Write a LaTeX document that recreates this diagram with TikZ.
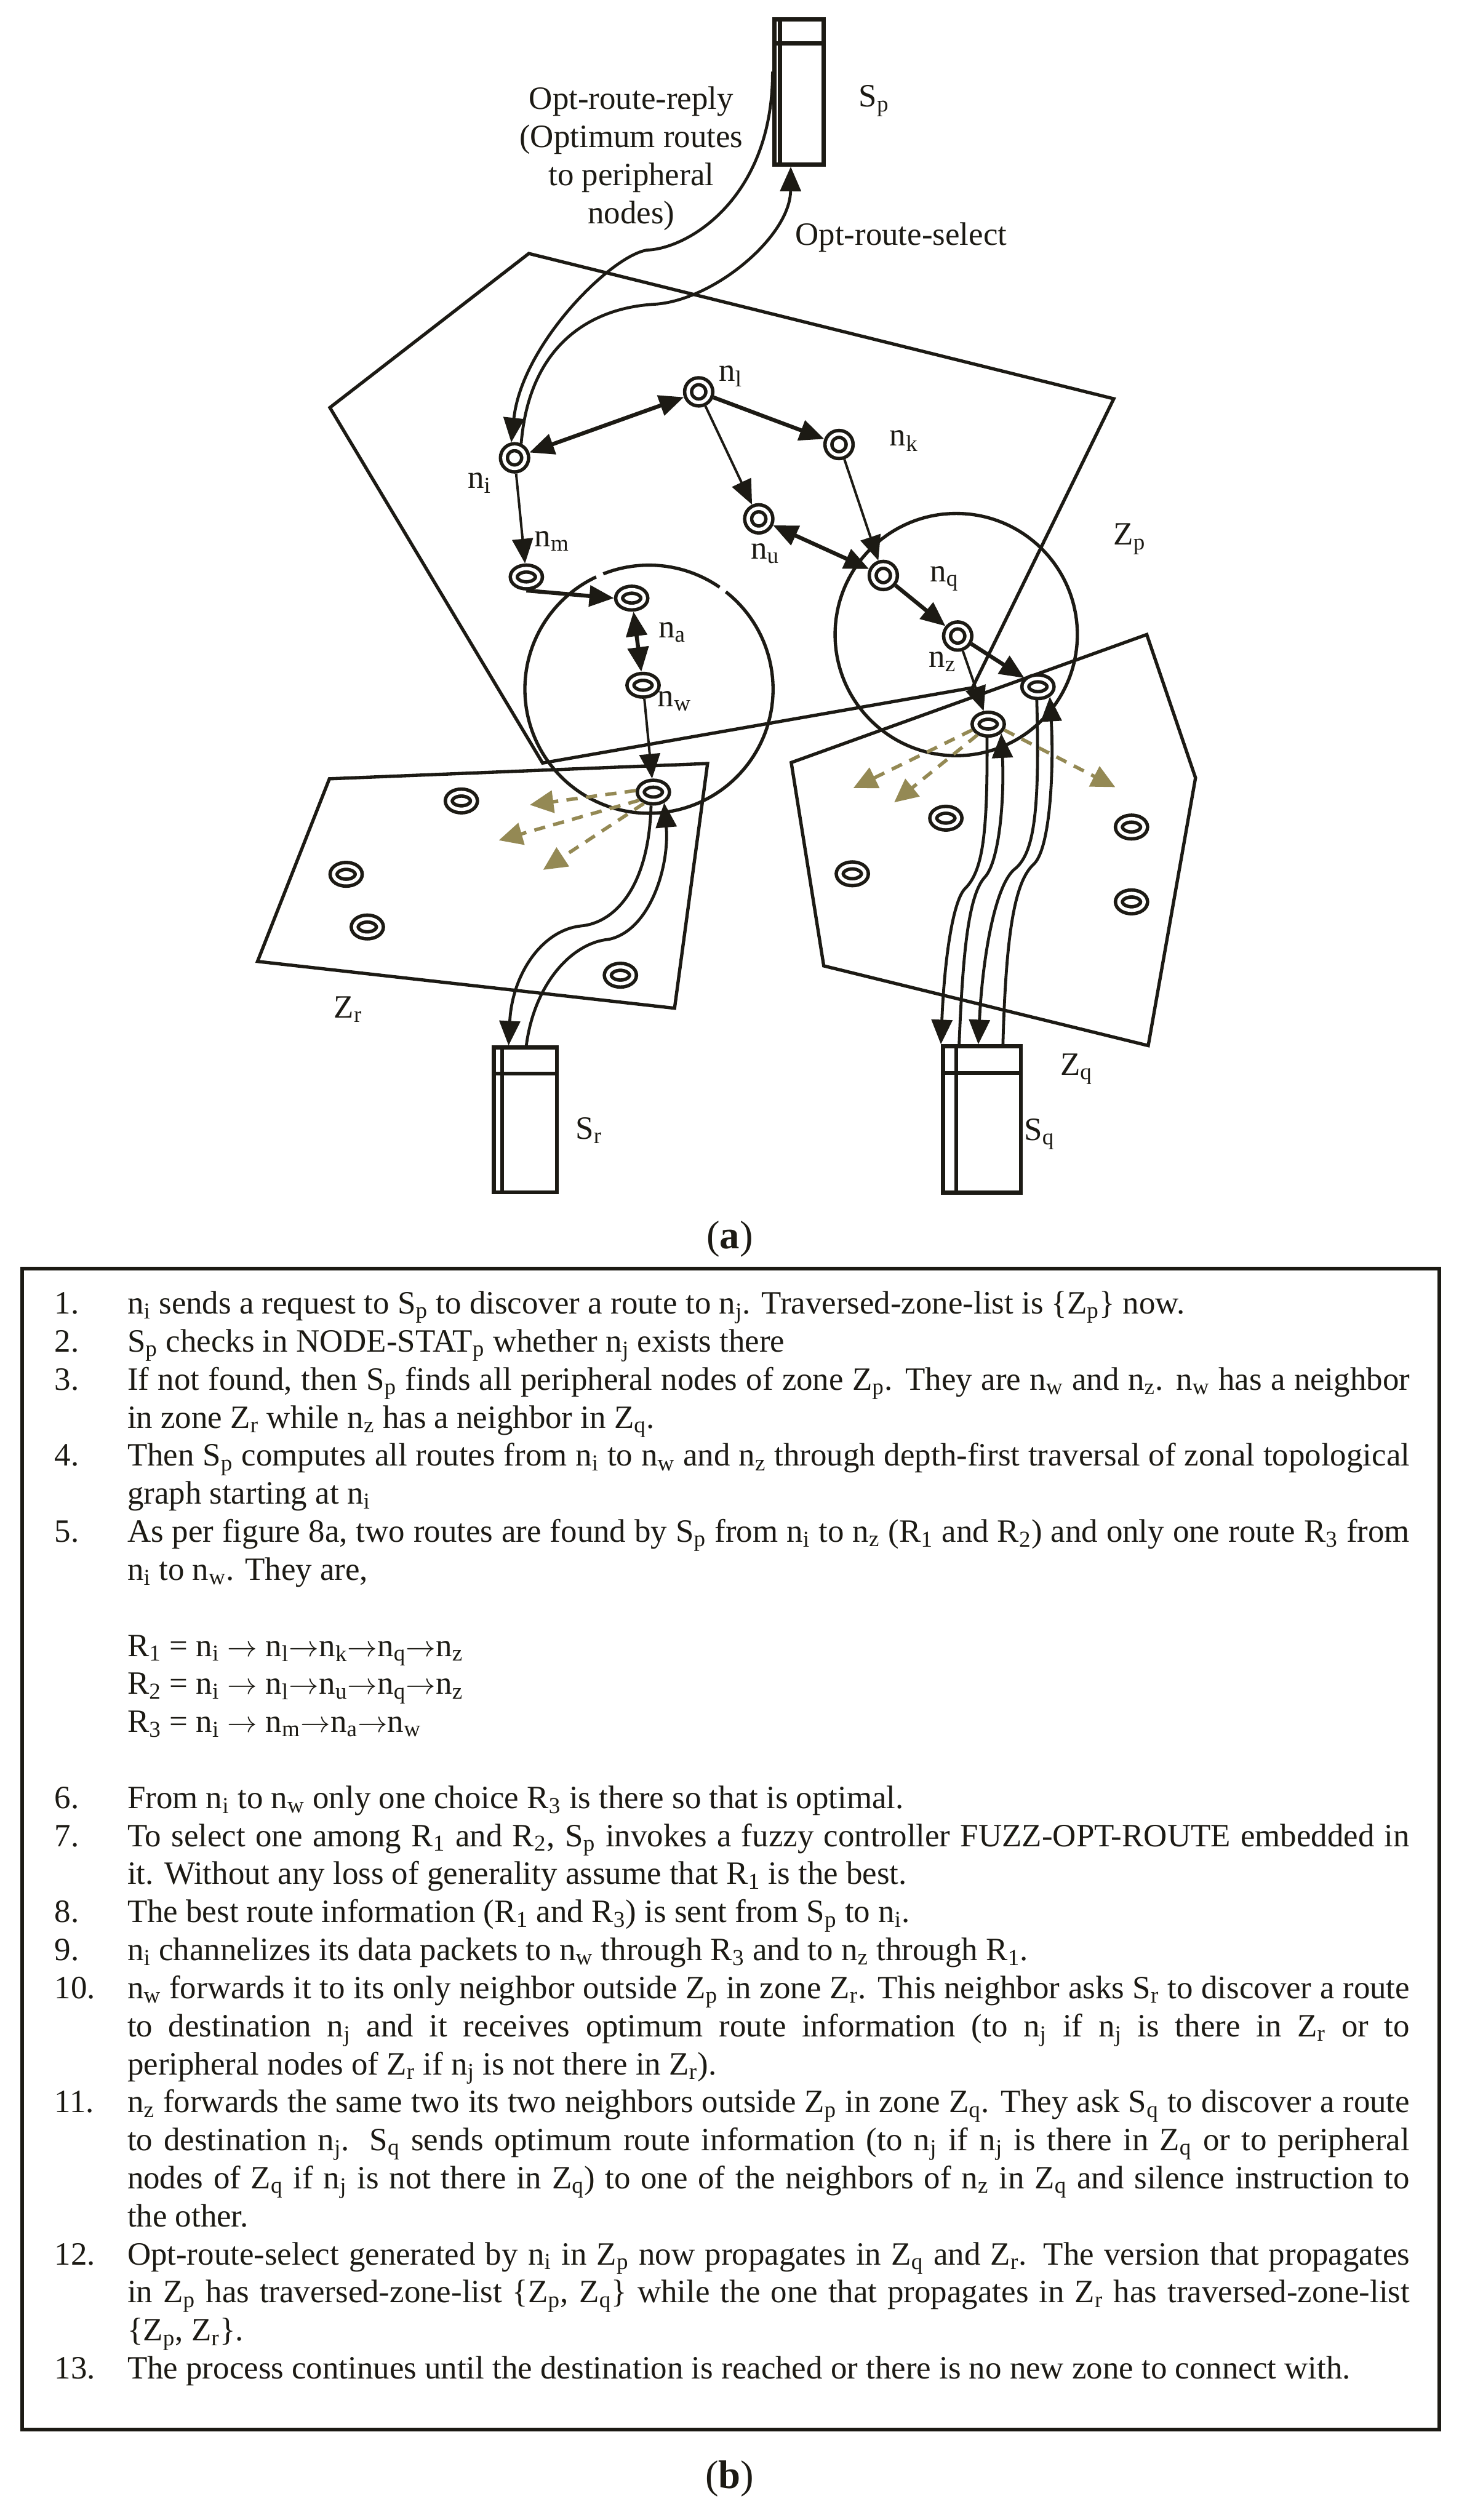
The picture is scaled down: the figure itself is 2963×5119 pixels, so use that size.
\documentclass[tikz,border=0pt]{standalone}
\usepackage{fontspec}
\setmainfont{Liberation Serif}
\usetikzlibrary{positioning, arrows.meta, calc, shapes.geometric}

\definecolor{ink}{RGB}{28,26,20}
\definecolor{olive}{RGB}{148,137,84}

\newcommand{\ns}[1]{n\textsubscript{#1}}
\newcommand{\zs}[1]{Z\textsubscript{#1}}
\newcommand{\ssv}[1]{S\textsubscript{#1}}
\newcommand{\rs}[1]{R\textsubscript{#1}}
\newcommand{\itm}[2]{\makebox[1.48cm][l]{#1}#2}
\newcommand{\itmj}[2]{\makebox[1.48cm][l]{#1}\makebox[26.03cm][s]{#2}}

\begin{document}
\begin{tikzpicture}[
  x=0.01cm, y=-0.01cm,
  font=\fontsize{18.8}{22}\selectfont,
  >={Triangle[length=0.5cm, width=0.42cm]},
  zone/.style={draw=ink, line width=1.9pt},
  ring/.style={circle, draw=ink, fill=white, line width=2pt, double,
               double distance=0.07cm, minimum size=0.43cm, inner sep=0pt,
               outer sep=0.105cm},
  flatring/.style={ring, ellipse, minimum width=0.51cm, minimum height=0.34cm},
  server/.style={draw=ink, fill=white, line width=2.3pt, inner sep=0pt},
  heavy/.style={->, draw=ink, line width=2.3pt},
  light/.style={heavy, line width=1.4pt},
  swing/.style={heavy, line width=1.7pt},
  scatter/.style={-{Triangle[length=0.48cm, width=0.45cm]}, draw=olive,
                  line width=2pt, dash pattern=on 6.5pt off 4.8pt},
  tag/.style={inner sep=0pt, text=ink},
]
\useasboundingbox (0,0) rectangle (2963,5119);

% zones
\draw[zone] (1074,515) -- (2262,810) -- (1975,1397) -- (1102,1550) -- (670,828) -- cycle;
\draw[zone] (669,1582) -- (1437,1551) -- (1370,2048) -- (523,1953) -- cycle;
\draw[zone] (1607,1549) -- (2329,1289) -- (2428,1580) -- (2332,2124) -- (1673,1962) -- cycle;

% neighbourhood circles
\coordinate (lc) at (1318,1400);
\draw[zone] (lc) ++(308.3:252) arc[start angle=308.3, end angle=604.8, radius=252];
\draw[zone] (lc) ++(248.4:252) arc[start angle=248.4, end angle=304.7, radius=252];
\draw[zone] (1942,1289) circle[radius=246];

% servers
\node[server, minimum width=1.00cm, minimum height=2.95cm] (sp) at (1623,187) {};
\draw[ink, line width=2.3pt] ($(sp.north west)+(15,0)$) -- ($(sp.south west)+(15,0)$);
\draw[ink, line width=2.3pt] ($(sp.north west)+(0,53)$) -- ($(sp.north east)+(0,53)$);
\node[server, minimum width=1.28cm, minimum height=2.94cm] (sr) at (1067,2275) {};
\draw[ink, line width=2.3pt] ($(sr.north west)+(21,0)$) -- ($(sr.south west)+(21,0)$);
\draw[ink, line width=2.3pt] ($(sr.north west)+(0,57)$) -- ($(sr.north east)+(0,57)$);
\node[server, minimum width=1.58cm, minimum height=2.97cm] (sq) at (1994,2274) {};
\draw[ink, line width=2.3pt] ($(sq.north west)+(31,0)$) -- ($(sq.south west)+(31,0)$);
\draw[ink, line width=2.3pt] ($(sq.north west)+(0,58)$) -- ($(sq.north east)+(0,58)$);

% mobile nodes
\node[ring] (ni) at (1045,930) {};
\node[ring] (nl) at (1419,796) {};
\node[ring] (nk) at (1704,903) {};
\node[ring] (nu) at (1541,1054) {};
\node[ring] (nq) at (1794,1169) {};
\node[ring] (nz) at (1945,1292) {};
\node[flatring] (nm) at (1069,1172) {};
\node[flatring] (na) at (1283,1215) {};
\node[flatring] (nw) at (1306,1392) {};
\node[flatring] (r0) at (1327,1609) {};
\node[flatring] (t1) at (2108,1395) {};
\node[flatring] (t2) at (2007,1471) {};
\node[flatring] (zr1) at (937,1627) {};
\node[flatring] (zr2) at (703,1776) {};
\node[flatring] (zr3) at (746,1883) {};
\node[flatring] (zr4) at (1260,1981) {};
\node[flatring] (zq1) at (1921,1662) {};
\node[flatring] (zq2) at (1731,1775) {};
\node[flatring] (zq3) at (2298,1680) {};
\node[flatring] (zq4) at (2298,1832) {};

% routes inside Zp
\draw[heavy, <->] (ni) -- (nl);
\draw[heavy] (nl) -- (nk);
\draw[light] (nl) -- (nu);
\draw[light] (nk.-70) -- (nq);
\draw[heavy, <->] (nu) -- (nq);
\draw[light] (ni) -- (nm);
\draw[heavy] (nm.south) -- (na.west);
\draw[heavy, <->] (na) -- (nw);
\draw[light] (nw) -- (r0);
\draw[heavy] (nq) -- (nz);
\draw[heavy] (nz.-30) -- (t1);
\draw[light] (nz) -- (t2);

% messages with the servers
\draw[swing] ($(sp.north west)+(0,110)$) .. controls (1570,400) and (1400,505) .. (1314,508)
  .. controls (1240,520) and (1060,700) .. (ni.102);
\draw[swing] (ni.65) .. controls (1075,700) and (1200,625) .. (1330,618)
  .. controls (1450,610) and (1605,480) .. ($(sp.south west)+(37,0)$);
\draw[swing] (r0.260) .. controls (1318,1800) and (1250,1875) .. (1179,1881)
  .. controls (1100,1890) and (1040,1980) .. ($(sr.north west)+(34,0)$);
\draw[swing] ($(sr.north west)+(70,0)$) .. controls (1085,2000) and (1160,1915) .. (1237,1908)
  .. controls (1320,1890) and (1360,1760) .. (r0.-45);
\draw[swing] (t2.265) .. controls (2006,1700) and (1995,1770) .. (1960,1805)
  .. controls (1935,1830) and (1918,1950) .. (sq.north west);
\draw[swing] ($(sq.north west)+(37,0)$) .. controls (1955,1950) and (1965,1820) .. (2000,1782)
  .. controls (2030,1750) and (2040,1620) .. (t2.-35);
\draw[swing] (t1.265) .. controls (2112,1650) and (2100,1735) .. (2060,1766)
  .. controls (2020,1800) and (1995,1950) .. ($(sq.north west)+(76,0)$);
\draw[swing] ($(sq.north west)+(126,0)$) .. controls (2043,1900) and (2060,1790) .. (2100,1755)
  .. controls (2135,1720) and (2140,1550) .. (t1.-40);

% flooding into the neighbour zones
\coordinate (d1) at (1076,1635);
\coordinate (d2) at (1013,1707);
\coordinate (d3) at (1103,1767);
\coordinate (e1) at (1733,1601);
\coordinate (e2) at (1816,1630);
\coordinate (e3) at (2265,1599);
\draw[scatter] (r0.175) -- (d1);
\draw[scatter] (r0.210) -- (d2);
\draw[scatter] (r0.230) -- (d3);
\draw[scatter] (t2.200) -- (e1);
\draw[scatter] (t2.225) -- (e2);
\draw[scatter] (t2.-20) -- (e3);

% labels
\node[tag] (lsp) at (1775,205) {\ssv{p}};
\node[tag, align=center] (lreply) at (1282,322)
  {Opt-route-reply\\(Optimum routes\\to peripheral\\nodes)};
\node[tag] (lselect) at (1830,482) {Opt-route-select};
\node[tag] (lnl) at (1484,764) {\ns{l}};
\node[tag] (lnk) at (1836,895) {\ns{k}};
\node[tag] (lni) at (974,981) {\ns{i}};
\node[tag] (lnm) at (1121,1099) {\ns{m}};
\node[tag] (lnu) at (1554,1124) {\ns{u}};
\node[tag] (lnq) at (1918,1175) {\ns{q}};
\node[tag] (lna) at (1365,1284) {\ns{a}};
\node[tag] (lnw) at (1370,1424) {\ns{w}};
\node[tag] (lnz) at (1914,1344) {\ns{z}};
\node[tag] (lzp) at (2294,1095) {\zs{p}};
\node[tag] (lzr) at (707,2050) {\zs{r}};
\node[tag] (lzq) at (2186,2172) {\zs{q}};
\node[tag] (lsr) at (1196,2296) {\ssv{r}};
\node[tag] (lsq) at (2111,2304) {\ssv{q}};
\node[tag] (capa) at (1482,2517) {\fontsize{23}{26}\selectfont(\textbf{a})};

% the procedure
\node[draw=ink, line width=2pt, minimum width=28.76cm, minimum height=23.57cm,
      inner sep=0pt] (frame) at (1484,3756) {};
\node[anchor=base west, inner sep=0pt, text=ink] (steps) at (110,2669) {\parbox[t]{27.51cm}{%
\fontsize{18.8}{21.97}\selectfont
\itm{1.}{\ns{i} sends a request to \ssv{p} to discover a route to \ns{j}. Traversed-zone-list is \{\zs{p}\} now.}\\
\itm{2.}{\ssv{p} checks in NODE-STAT\textsubscript{p} whether \ns{j} exists there}\\
\itmj{3.}{If not found, then \ssv{p} finds all peripheral nodes of zone \zs{p}. They are \ns{w} and \ns{z}. \ns{w} has a neighbor}\\
\itm{}{in zone \zs{r} while \ns{z} has a neighbor in \zs{q}.}\\
\itmj{4.}{Then \ssv{p} computes all routes from \ns{i} to \ns{w} and \ns{z} through depth-first traversal of zonal topological}\\
\itm{}{graph starting at \ns{i}}\\
\itmj{5.}{As per figure 8a, two routes are found by \ssv{p} from \ns{i} to \ns{z} (\rs{1} and \rs{2}) and only one route \rs{3} from}\\
\itm{}{\ns{i} to \ns{w}. They are,}\\
\mbox{}\\
\itm{}{\rs{1} = \ns{i} $\rightarrow$ \ns{l}$\rightarrow$\ns{k}$\rightarrow$\ns{q}$\rightarrow$\ns{z}}\\
\itm{}{\rs{2} = \ns{i} $\rightarrow$ \ns{l}$\rightarrow$\ns{u}$\rightarrow$\ns{q}$\rightarrow$\ns{z}}\\
\itm{}{\rs{3} = \ns{i} $\rightarrow$ \ns{m}$\rightarrow$\ns{a}$\rightarrow$\ns{w}}\\
\mbox{}\\
\itm{6.}{From \ns{i} to \ns{w} only one choice \rs{3} is there so that is optimal.}\\
\itmj{7.}{To select one among \rs{1} and \rs{2}, \ssv{p} invokes a fuzzy controller FUZZ-OPT-ROUTE embedded in}\\
\itm{}{it. Without any loss of generality assume that \rs{1} is the best.}\\
\itm{8.}{The best route information (\rs{1} and \rs{3}) is sent from \ssv{p} to \ns{i}.}\\
\itm{9.}{\ns{i} channelizes its data packets to \ns{w} through \rs{3} and to \ns{z} through \rs{1}.}\\
\itmj{10.}{\ns{w} forwards it to its only neighbor outside \zs{p} in zone \zs{r}. This neighbor asks \ssv{r} to discover a route}\\
\itmj{}{to destination \ns{j} and it receives optimum route information (to \ns{j} if \ns{j} is there in \zs{r} or to}\\
\itm{}{peripheral nodes of \zs{r} if \ns{j} is not there in \zs{r}).}\\
\itmj{11.}{\ns{z} forwards the same two its two neighbors outside \zs{p} in zone \zs{q}. They ask \ssv{q} to discover a route}\\
\itmj{}{to destination \ns{j}. \ssv{q} sends optimum route information (to \ns{j} if \ns{j} is there in \zs{q} or to peripheral}\\
\itmj{}{nodes of \zs{q} if \ns{j} is not there in \zs{q}) to one of the neighbors of \ns{z} in \zs{q} and silence instruction to}\\
\itm{}{the other.}\\
\itmj{12.}{Opt-route-select generated by \ns{i} in \zs{p} now propagates in \zs{q} and \zs{r}. The version that propagates}\\
\itmj{}{in \zs{p} has traversed-zone-list \{\zs{p}, \zs{q}\} while the one that propagates in \zs{r} has traversed-zone-list}\\
\itm{}{\{\zs{p}, \zs{r}\}.}\\
\itm{13.}{The process continues until the destination is reached or there is no new zone to connect with.}}};
\node[tag] (capb) at (1482,5035) {\fontsize{23}{26}\selectfont(\textbf{b})};

\end{tikzpicture}
\end{document}
